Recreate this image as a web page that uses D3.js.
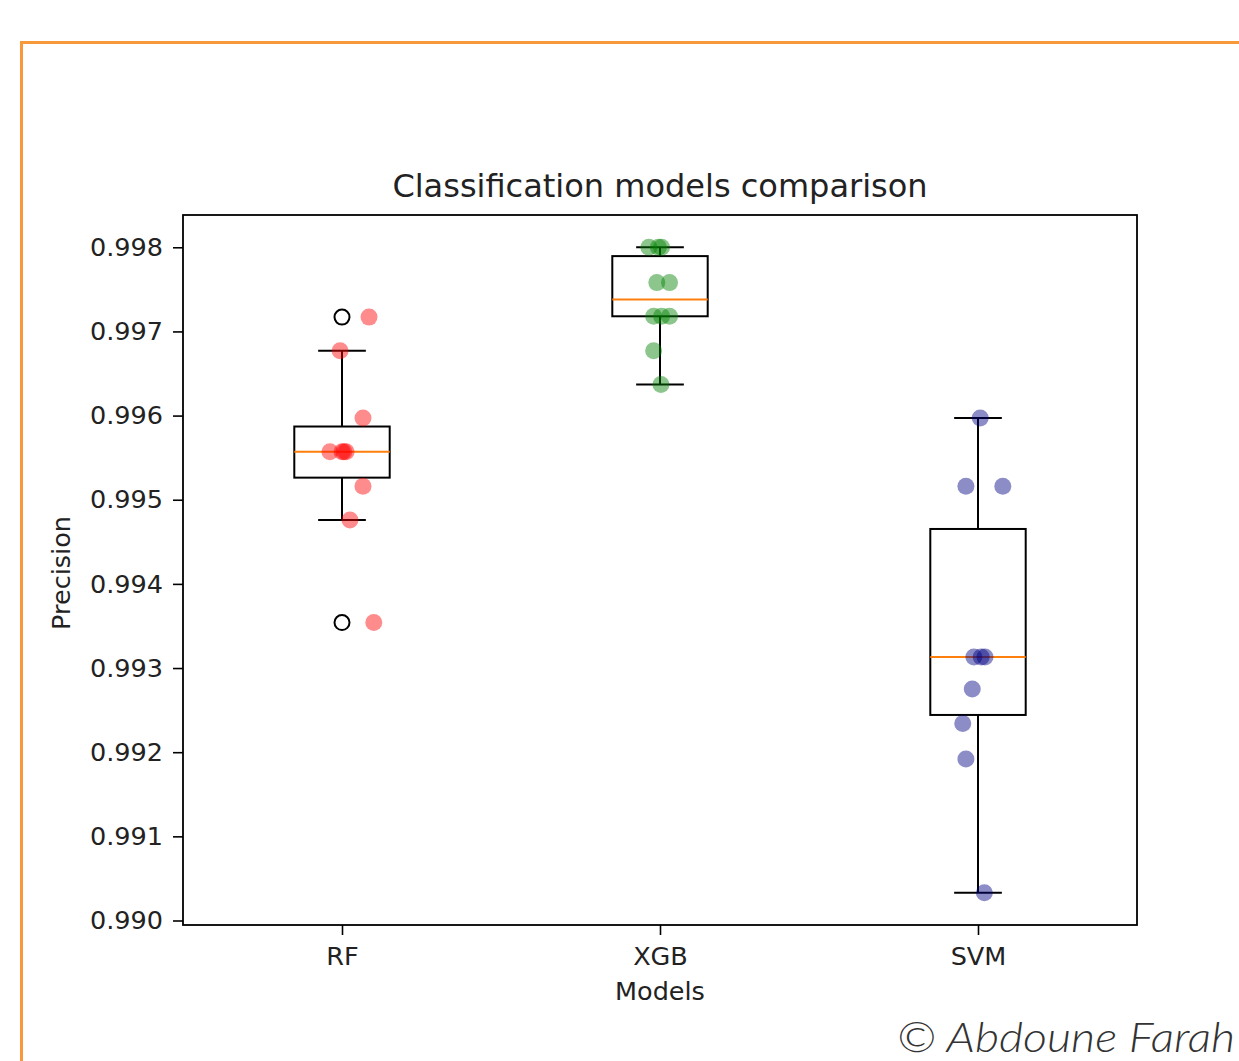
<!DOCTYPE html>
<html>
<head>
<meta charset="utf-8">
<script src="https://cdn.jsdelivr.net/npm/d3@7"></script>
<style>
  html, body { margin: 0; padding: 0; background: #fff; }
  svg { display: block; }
</style>
</head>
<body>
<svg id="chart" width="1239" height="1061"></svg>
<script>
// ---- data ----
const models = ["RF", "XGB", "SVM"];
const rfValues  = [0.99717, 0.99677, 0.99597, 0.99557, 0.99557, 0.99557, 0.99557, 0.99516, 0.99476, 0.99354];
const xgbValues = [0.99800, 0.99800, 0.99800, 0.99758, 0.99758, 0.99718, 0.99718, 0.99718, 0.99677, 0.99637];
const svmValues = [0.99597, 0.99516, 0.99516, 0.99313, 0.99313, 0.99313, 0.99275, 0.99234, 0.99192, 0.99033];
// horizontal jitter of each point, in category units
const rfJitter  = [0.085, -0.006, 0.066, -0.038, 0.000, 0.006, 0.013, 0.066, 0.025, 0.100];
const xgbJitter = [-0.035, -0.005, 0.005, -0.010, 0.030, -0.020, 0.005, 0.030, -0.020, 0.003];
const svmJitter = [0.007, -0.038, 0.078, -0.013, 0.010, 0.022, -0.018, -0.048, -0.038, 0.020];
const yTicks = [0.990, 0.991, 0.992, 0.993, 0.994, 0.995, 0.996, 0.997, 0.998];
const pointColors = ["#ff0000", "#008000", "#000080"];

const series = [rfValues, xgbValues, svmValues];
const jitters = [rfJitter, xgbJitter, svmJitter];

// ---- layout ----
const svg = d3.select("#chart");
const L = 183, R = 1137, T = 215, B = 925;

// orange frame
svg.append("path")
  .attr("d", "M21.5,1061 L21.5,42.5 L1239,42.5")
  .attr("fill", "none").attr("stroke", "#f7993b").attr("stroke-width", 3);

const all = series.flat();
const lo = d3.min(all), hi = d3.max(all), pad = (hi - lo) * 0.05;
const y = d3.scaleLinear().domain([lo - pad, hi + pad]).range([B, T]);
const x = d3.scaleLinear().domain([0.5, 3.5]).range([L, R]);

const font = "'DejaVu Sans', sans-serif";
const fs = "25.5px";

// axes
const yAxis = d3.axisLeft(y).tickValues(yTicks).tickFormat(d3.format(".3f")).tickSize(10).tickPadding(10);
const xAxis = d3.axisBottom(x).tickValues([1, 2, 3]).tickFormat((d) => models[d - 1]).tickSize(10).tickPadding(12);

const gy = svg.append("g").attr("transform", `translate(${L},0)`).call(yAxis);
const gx = svg.append("g").attr("transform", `translate(0,${B})`).call(xAxis);
[gy, gx].forEach(g => {
  g.select(".domain").remove();
  g.selectAll(".tick line").attr("stroke", "#000").attr("stroke-width", 1.6);
  g.selectAll(".tick text").attr("fill", "#222").style("font-family", font).style("font-size", fs);
});

// boxes
const boxW = 0.3, capW = 0.15;
series.forEach((vals, i) => {
  const pos = i + 1;
  const s = vals.slice().sort(d3.ascending);
  const q1 = d3.quantile(s, 0.25), med = d3.quantile(s, 0.5), q3 = d3.quantile(s, 0.75);
  const iqr = q3 - q1;
  const lw = d3.min(s.filter(v => v >= q1 - 1.5 * iqr));
  const hw = d3.max(s.filter(v => v <= q3 + 1.5 * iqr));
  const outl = s.filter(v => v < lw || v > hw);
  const g = svg.append("g");
  const ln = (x1, y1, x2, y2, c) => g.append("line")
    .attr("x1", x(x1)).attr("x2", x(x2)).attr("y1", y(y1)).attr("y2", y(y2))
    .attr("stroke", c || "#000").attr("stroke-width", 2);
  ln(pos, q3, pos, hw);
  ln(pos, q1, pos, lw);
  ln(pos - capW / 2, hw, pos + capW / 2, hw);
  ln(pos - capW / 2, lw, pos + capW / 2, lw);
  g.append("rect")
    .attr("x", x(pos - boxW / 2)).attr("width", x(pos + boxW / 2) - x(pos - boxW / 2))
    .attr("y", y(q3)).attr("height", y(q1) - y(q3))
    .attr("fill", "none").attr("stroke", "#000").attr("stroke-width", 2);
  ln(pos - boxW / 2, med, pos + boxW / 2, med, "#ff7f0e");
  g.selectAll("circle.out").data(outl).enter().append("circle")
    .attr("cx", x(pos)).attr("cy", d => y(d)).attr("r", 7.5)
    .attr("fill", "none").attr("stroke", "#000").attr("stroke-width", 2);
});

// points
series.forEach((vals, i) => {
  svg.append("g").selectAll("circle").data(vals).enter().append("circle")
    .attr("cx", (d, j) => x(i + 1 + jitters[i][j]))
    .attr("cy", d => y(d))
    .attr("r", 8.5)
    .attr("fill", pointColors[i]).attr("fill-opacity", 0.45);
});

// spines
svg.append("rect").attr("x", L).attr("y", T).attr("width", R - L).attr("height", B - T)
  .attr("fill", "none").attr("stroke", "#000").attr("stroke-width", 1.8);

// title & labels
svg.append("text").attr("x", (L + R) / 2).attr("y", 197).attr("text-anchor", "middle")
  .style("font-family", font).style("font-size", "32px").attr("fill", "#222")
  .text("Classification models comparison");
svg.append("text").attr("x", (L + R) / 2).attr("y", 1000).attr("text-anchor", "middle")
  .style("font-family", font).style("font-size", fs).attr("fill", "#222").text("Models");
svg.append("text").attr("transform", `translate(70,${(T + B) / 2 + 3}) rotate(-90)`).attr("text-anchor", "middle")
  .style("font-family", font).style("font-size", fs).attr("fill", "#222").text("Precision");

// credit
svg.append("text").attr("x", 897).attr("y", 1052)
  .attr("textLength", 338).attr("lengthAdjust", "spacingAndGlyphs")
  .style("font-family", "Lato, 'Open Sans', sans-serif").style("font-style", "italic").style("font-weight", 300)
  .style("font-size", "42px").attr("fill", "#333").text("© Abdoune Farah");
</script>
</body>
</html>
